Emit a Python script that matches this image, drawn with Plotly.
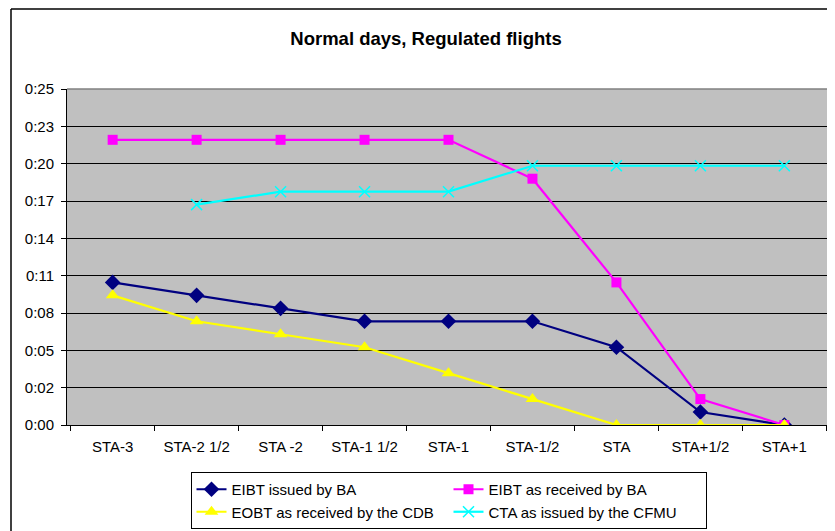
import plotly.graph_objects as go

categories = ["STA-3", "STA-2 1/2", "STA -2", "STA-1 1/2", "STA-1", "STA-1/2", "STA", "STA+1/2", "STA+1"]

# values in minutes
eibt_issued = [11, 10, 9, 8, 8, 8, 6, 1, 0]
eibt_received = [22, 22, 22, 22, 22, 19, 11, 2, 0]
eobt_cdb = [10, 8, 7, 6, 4, 2, 0, 0, 0]
cta_cfmu = [None, 17, 18, 18, 18, 20, 20, 20, 20]

# Excel time axis: major unit 0.002 day = 2.88 min, labels show h:mm truncated
tick_step = 2.88
tick_vals = [i * tick_step for i in range(10)]
tick_text = ["0:00", "0:02", "0:05", "0:08", "0:11", "0:14", "0:17", "0:20", "0:23", "0:25"]

series = [
    ("EIBT issued by BA", eibt_issued, "#000080", dict(symbol="diamond", size=12)),
    ("EIBT as received by BA", eibt_received, "#FF00FF", dict(symbol="square", size=10)),
    ("EOBT as received by the CDB", eobt_cdb, "#FFFF00", dict(symbol="triangle-up", size=12)),
    ("CTA as issued by the CFMU", cta_cfmu, "#00FFFF", dict(symbol="x-thin", size=11, line=dict(width=1.5, color="#00FFFF"))),
]

fig = go.Figure()
for name, vals, color, marker in series:
    fig.add_trace(go.Scatter(
        x=categories, y=vals, name=name, mode="lines+markers",
        line=dict(color=color, width=2.2),
        marker=dict(color=color, **marker),
        connectgaps=False,
    ))

OFF = 8  # page body margin
W, H = 835 - OFF, 531 - OFF
# target page-pixel geometry of the plot area
PL, PR, PT, PB = 67, 830, 89, 425
ml, mt = PL - OFF, PT - OFF
mr = W - (PR - OFF)
mb = H - (PB - OFF)
pw, ph = PR - PL, PB - PT

def px_x(x):
    return (x - PL) / pw

def px_y(y):
    return (PB - y) / ph

fig.update_layout(
    width=W, height=H,
    margin=dict(l=ml, r=mr, t=mt, b=mb, pad=0, autoexpand=False),
    paper_bgcolor="white",
    plot_bgcolor="#C0C0C0",
    font=dict(family="Liberation Sans, Arial, sans-serif", size=15, color="black"),
    title=dict(text="<b>Normal days, Regulated flights</b>", x=(426 - OFF) / W, xref="container",
               y=1 - (39 - OFF) / H, yref="container", xanchor="center", yanchor="middle",
               font=dict(size=18.5, color="black")),
    xaxis=dict(
        type="category", showgrid=False, tickson="boundaries", ticks="outside",
        ticklen=5, tickcolor="black", showline=True, linecolor="black", linewidth=1,
        tickfont=dict(size=15), zeroline=False, ticklabelstandoff=8,
    ),
    yaxis=dict(
        range=[0, 9 * tick_step], tickvals=tick_vals, ticktext=tick_text,
        ticks="outside", ticklen=5, tickcolor="black",
        showgrid=True, gridcolor="#000000", gridwidth=1,
        showline=True, linecolor="black", linewidth=1, zeroline=False,
        tickfont=dict(size=15), ticklabelstandoff=4,
    ),
    showlegend=True,
    legend=dict(
        orientation="h", x=0.5, xanchor="center", y=px_y(472), yanchor="top",
        bordercolor="black", borderwidth=1, bgcolor="white",
        entrywidth=212, entrywidthmode="pixels",
        font=dict(size=15), itemwidth=30,
    ),
    shapes=[
        # plot area border top/right
        dict(type="line", xref="paper", yref="paper", x0=0, x1=1, y0=1, y1=1,
             line=dict(color="#808080", width=1.5)),
        dict(type="line", xref="paper", yref="paper", x0=1, x1=1, y0=0, y1=1,
             line=dict(color="#808080", width=1.5)),
        # outer chart border (cropped)
        dict(type="line", xref="paper", yref="paper", x0=px_x(11), x1=px_x(834),
             y0=px_y(9), y1=px_y(9), line=dict(color="black", width=1.5)),
        dict(type="line", xref="paper", yref="paper", x0=px_x(11), x1=px_x(11),
             y0=px_y(9), y1=px_y(540), line=dict(color="black", width=1.5)),
    ],
)

fig.write_html("out.html")
